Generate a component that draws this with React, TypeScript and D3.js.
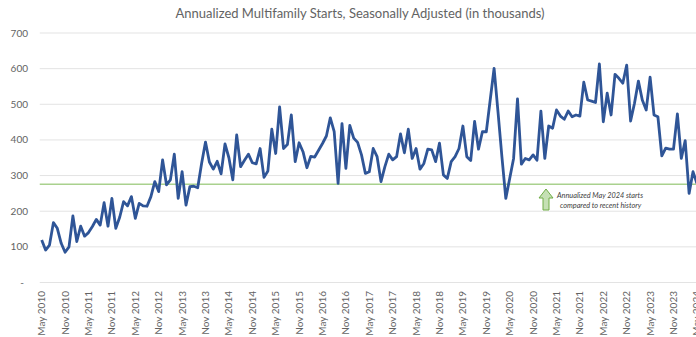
import React from "react";
import * as d3 from "d3";

const W = 696;
const H = 337;

// Monthly categories May 2010 .. May 2024
const monthNames = ["Jan", "Feb", "Mar", "Apr", "May", "Jun", "Jul", "Aug", "Sep", "Oct", "Nov", "Dec"];
const startYear = 2010;
const startMonth = 4; // May
const categories: string[] = [];
for (let k = 0; k < 169; k++) {
  const m = (startMonth + k) % 12;
  const y = startYear + Math.floor((startMonth + k) / 12);
  categories.push(`${monthNames[m]} ${y}`);
}

const starts = [
  119, 91, 105, 168, 152, 110, 85, 100, 187, 115,
  158, 130, 140, 157, 177, 161, 224, 158, 236, 152,
  183, 227, 215, 241, 180, 222, 215, 214, 241, 283,
  255, 344, 274, 288, 360, 236, 311, 217, 269, 270,
  266, 334, 394, 338, 318, 340, 305, 389, 350, 288,
  414, 325, 343, 360, 336, 333, 376, 295, 313, 430,
  362, 493, 376, 387, 470, 339, 392, 367, 322, 354,
  352, 371, 390, 411, 462, 423, 278, 446, 320, 441,
  405, 393, 358, 306, 311, 376, 353, 283, 325, 360,
  344, 353, 417, 364, 430, 348, 376, 318, 334, 374,
  372, 339, 391, 302, 292, 339, 353, 376, 439, 353,
  342, 452, 374, 423, 423, 512, 601, 479, 353, 236,
  292, 348, 515, 332, 348, 344, 358, 343, 481, 348,
  439, 433, 484, 467, 458, 481, 465, 470, 467, 562,
  512, 509, 505, 613, 451, 531, 470, 584, 573, 559,
  610, 453, 503, 565, 512, 484, 576, 470, 465, 355,
  377, 374, 374, 473, 348, 398, 250, 311, 278,
];

const tickLabels = [
  "May 2010", "Nov 2010", "May 2011", "Nov 2011", "May 2012", "Nov 2012",
  "May 2013", "Nov 2013", "May 2014", "Nov 2014", "May 2015", "Nov 2015",
  "May 2016", "Nov 2016", "May 2017", "Nov 2017", "May 2018", "Nov 2018",
  "May 2019", "Nov 2019", "May 2020", "Nov 2020", "May 2021", "Nov 2021",
  "May 2022", "Nov 2022", "May 2023", "Nov 2023", "May 2024",
];

const yTicks = [0, 100, 200, 300, 400, 500, 600, 700];
const referenceLevel = [276];

const title = "Annualized Multifamily Starts, Seasonally Adjusted (in thousands)";
const noteLines = ["Annualized May 2024 starts", "compared to recent history"];

export default function App() {
  const plotLeft = 39.75;
  const step = 3.9;
  const x = d3
    .scaleBand<string>()
    .domain(categories)
    .range([plotLeft, plotLeft + step * categories.length])
    .padding(0);
  const cx = (c: string) => (x(c) as number) + x.bandwidth() / 2;
  const y = d3.scaleLinear().domain([0, 700]).range([282.5, 33]);

  const line = d3
    .line<number>()
    .x((_, i) => cx(categories[i]))
    .y((d) => y(d));

  const font = "Lato, 'Open Sans', sans-serif";
  const gray = "#636363";

  // annotation arrow geometry
  const ax = 546;
  const ay = 189;

  return (
    <svg width={W} height={H} style={{ position: "absolute", left: 0, top: 0, background: "#fff" }}>
      <rect x={0} y={0} width={W} height={H} fill="#fff" />
      <text x={360} y={18} textAnchor="middle" fontFamily={font} fontSize={13} fill={gray}>
        {title}
      </text>
      {yTicks.map((t) => (
        <g key={t}>
          <line x1={plotLeft} x2={W} y1={y(t)} y2={y(t)} stroke="#e3e3e3" strokeWidth={1} />
          <text
            x={t === 0 ? 24 : 28}
            y={y(t)}
            dy="0.35em"
            textAnchor="end"
            fontFamily={font}
            fontSize={10}
            fill={gray}
          >
            {t === 0 ? "-" : t}
          </text>
        </g>
      ))}
      {tickLabels.map((lab) => {
        const c = categories.indexOf(lab);
        const px = c >= 0 ? cx(categories[c]) : 0;
        return (
          <text
            key={lab}
            transform={`translate(${px},291) rotate(-90)`}
            dy="0.35em"
            textAnchor="end"
            fontFamily={font}
            fontSize={10}
            fill={gray}
          >
            {lab}
          </text>
        );
      })}
      {referenceLevel.map((r) => (
        <line key={r} x1={plotLeft} x2={W} y1={y(r)} y2={y(r)} stroke="#a9d18e" strokeWidth={1.5} />
      ))}
      <path d={line(starts) || ""} fill="none" stroke="#2f5597" strokeWidth={2.8} strokeLinejoin="round" />
      <path
        d={`M${ax},${ay} L${ax + 7},${ay + 9} L${ax + 3},${ay + 9} L${ax + 3},${ay + 21} L${ax - 3},${ay + 21} L${ax - 3},${ay + 9} L${ax - 7},${ay + 9} Z`}
        fill="#c5e0b4"
        stroke="#70ad47"
        strokeWidth={1}
      />
      {noteLines.map((t, i) => (
        <text
          key={t}
          x={i === 0 ? 557 : 560}
          y={198 + i * 9.5}
          fontFamily={font}
          fontSize={7.3}
          fontStyle="italic"
          fill="#404040"
        >
          {t}
        </text>
      ))}
    </svg>
  );
}
